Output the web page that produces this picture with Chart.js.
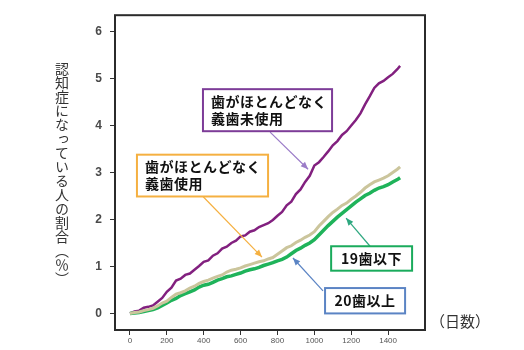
<!DOCTYPE html>
<html>
<head>
<meta charset="utf-8">
<script src="https://cdn.jsdelivr.net/npm/chart.js@4.4.1/dist/chart.umd.min.js"></script>
<style>
  html, body { margin: 0; padding: 0; background: #fff; }
  #wrap { position: relative; width: 524px; height: 350px; }
  #yTitle {
    position: absolute; left: 53px; top: 62px;
    writing-mode: vertical-rl; text-orientation: upright;
    font: 14px "Noto Sans CJK JP", sans-serif; color: #333; line-height: 18px;
  }
  #xTitle {
    position: absolute; left: 430px; top: 310px;
    font: 15px "Noto Sans CJK JP", sans-serif; color: #333;
  }
</style>
</head>
<body>
<div id="wrap">
  <canvas id="chart" width="524" height="350"></canvas>
  <div id="yTitle">認知症になっている人の割合（％）</div>
  <div id="xTitle">（日数）</div>
</div>
<script>
// 経過日数と各グループの割合 (%)
const days = [0, 25, 50, 75, 100, 125, 150, 175, 200, 225, 250, 275, 300, 325, 350, 375, 400, 425, 450, 475,
              500, 525, 550, 575, 600, 625, 650, 675, 700, 725, 750, 775, 800, 825, 850, 875, 900, 925, 950, 975,
              1000, 1025, 1050, 1075, 1100, 1125, 1150, 1175, 1200, 1225, 1250, 1275, 1300, 1325, 1350, 1375,
              1400, 1425, 1450, 1465];
const noTeethNoDenture = [0, 0.04, 0.06, 0.12, 0.14, 0.17, 0.25, 0.33, 0.46, 0.55, 0.70, 0.74, 0.82, 0.85, 0.93, 1.01, 1.10, 1.13, 1.23, 1.28,
              1.38, 1.42, 1.50, 1.55, 1.64, 1.66, 1.74, 1.77, 1.84, 1.88, 1.92, 1.99, 2.08, 2.16, 2.30, 2.38, 2.54, 2.64, 2.80, 2.93,
              3.15, 3.22, 3.33, 3.45, 3.58, 3.67, 3.80, 3.88, 4.00, 4.12, 4.26, 4.45, 4.62, 4.80, 4.90, 4.95,
              5.03, 5.10, 5.20, 5.27];
const noTeethDenture = [0, 0.02, 0.03, 0.06, 0.08, 0.11, 0.16, 0.22, 0.26, 0.34, 0.41, 0.44, 0.48, 0.54, 0.58, 0.64, 0.68, 0.71, 0.75, 0.79,
              0.82, 0.88, 0.92, 0.94, 0.97, 1.01, 1.04, 1.07, 1.10, 1.12, 1.16, 1.19, 1.26, 1.33, 1.40, 1.44, 1.51, 1.56, 1.62, 1.67,
              1.74, 1.86, 1.96, 2.06, 2.15, 2.22, 2.30, 2.35, 2.43, 2.50, 2.58, 2.67, 2.74, 2.80, 2.84, 2.88,
              2.93, 3.00, 3.07, 3.12];
const teeth20plus = [0, 0.01, 0.02, 0.04, 0.06, 0.08, 0.12, 0.17, 0.22, 0.28, 0.32, 0.38, 0.42, 0.46, 0.50, 0.56, 0.60, 0.62, 0.66, 0.71,
              0.74, 0.78, 0.80, 0.83, 0.86, 0.90, 0.93, 0.95, 0.98, 1.02, 1.05, 1.08, 1.12, 1.15, 1.20, 1.27, 1.34, 1.39, 1.45, 1.50,
              1.57, 1.67, 1.77, 1.87, 1.96, 2.05, 2.13, 2.21, 2.29, 2.37, 2.44, 2.51, 2.56, 2.62, 2.67, 2.70,
              2.74, 2.80, 2.85, 2.89];
const xTicks = [0, 200, 400, 600, 800, 1000, 1200, 1400];
const yTicks = [0, 1, 2, 3, 4, 5, 6];

const pts = vals => days.map((d, i) => ({ x: d, y: vals[i] }));

// 吹き出し (データ座標で指定)
const notes = [
  { lines: ['歯がほとんどなく', '義歯未使用'], box: [396, 1096, 4.775, 3.88], color: '#7d3c98',
    arrow: '#9b7cc8', from: [760, 3.86], to: [966, 3.07], center: false },
  { lines: ['歯がほとんどなく', '義歯使用'], box: [38, 749, 3.38, 2.49], color: '#f5b041',
    arrow: '#f5b041', from: [396, 2.49], to: [716, 1.20], center: false },
  { lines: ['19歯以下'], box: [1091, 1530, 1.43, 0.91], color: '#1aab5c',
    arrow: '#2fa880', from: [1302, 1.43], to: [1172, 2.03], center: true },
  { lines: ['20歯以上'], box: [1058, 1492, 0.54, 0.0], color: '#5b84c4',
    arrow: '#5b84c4', from: [1047, 0.48], to: [884, 1.18], center: true }
];

function drawArrow(ctx, x0, y0, x1, y1, color) {
  const ang = Math.atan2(y1 - y0, x1 - x0);
  ctx.strokeStyle = color;
  ctx.fillStyle = color;
  ctx.lineWidth = 1.2;
  ctx.beginPath();
  ctx.moveTo(x0, y0);
  ctx.lineTo(x1, y1);
  ctx.stroke();
  ctx.beginPath();
  ctx.moveTo(x1, y1);
  ctx.lineTo(x1 - 8 * Math.cos(ang - 0.4), y1 - 8 * Math.sin(ang - 0.4));
  ctx.lineTo(x1 - 8 * Math.cos(ang + 0.4), y1 - 8 * Math.sin(ang + 0.4));
  ctx.closePath();
  ctx.fill();
}

const frameAndNotes = {
  id: 'frameAndNotes',
  afterDatasetsDraw(chart) {
    const { ctx, chartArea: a, scales: { x, y } } = chart;
    ctx.save();
    notes.forEach(n => {
      drawArrow(ctx, x.getPixelForValue(n.from[0]), y.getPixelForValue(n.from[1]),
                x.getPixelForValue(n.to[0]), y.getPixelForValue(n.to[1]), n.arrow);
    });
    notes.forEach(n => {
      const bx0 = x.getPixelForValue(n.box[0]), bx1 = x.getPixelForValue(n.box[1]);
      const by0 = y.getPixelForValue(n.box[2]), by1 = y.getPixelForValue(n.box[3]);
      ctx.fillStyle = '#fff';
      ctx.fillRect(bx0, by0, bx1 - bx0, by1 - by0);
      ctx.strokeStyle = n.color;
      ctx.lineWidth = 2;
      ctx.strokeRect(bx0, by0, bx1 - bx0, by1 - by0);
      ctx.fillStyle = '#111';
      ctx.font = 'bold 14px "Noto Sans CJK JP", sans-serif';
      ctx.letterSpacing = '0.5px';
      ctx.textBaseline = 'middle';
      ctx.textAlign = n.center ? 'center' : 'left';
      const lh = 17;
      const midY = (by0 + by1) / 2;
      n.lines.forEach((t, i) => {
        const ty = midY + (i - (n.lines.length - 1) / 2) * lh;
        ctx.fillText(t, n.center ? (bx0 + bx1) / 2 : bx0 + 8, ty);
      });
    });
    ctx.strokeStyle = '#2b2b2b';
    ctx.lineWidth = 2;
    ctx.strokeRect(a.left, a.top, a.right - a.left, a.bottom - a.top);
    ctx.restore();
  }
};

new Chart(document.getElementById('chart'), {
  type: 'line',
  data: {
    datasets: [
      { label: '歯がほとんどなく義歯使用', data: pts(noTeethDenture), borderColor: '#cbc59c', borderWidth: 3 },
      { label: '20歯以上', data: pts(teeth20plus), borderColor: '#1fb35a', borderWidth: 3.5 },
      { label: '歯がほとんどなく義歯未使用', data: pts(noTeethNoDenture), borderColor: '#82207f', borderWidth: 2.5 }
    ]
  },
  options: {
    responsive: false,
    animation: false,
    devicePixelRatio: 1,
    layout: { padding: { top: 7, right: 99, left: 0, bottom: 0 } },
    elements: { point: { radius: 0 }, line: { tension: 0 } },
    plugins: { legend: { display: false }, tooltip: { enabled: false } },
    scales: {
      x: {
        type: 'linear', min: -81, max: 1600,
        afterBuildTicks: s => { s.ticks = xTicks.map(v => ({ value: v })); },
        afterFit: s => { s.height = 20; },
        ticks: { color: '#555', font: { size: 8, family: 'Liberation Sans' }, padding: 1, maxRotation: 0,
                 callback: v => String(v) },
        grid: { drawOnChartArea: false, tickLength: 5, color: '#333' },
        border: { display: false }
      },
      y: {
        min: -0.353, max: 6.35,
        afterBuildTicks: s => { s.ticks = yTicks.map(v => ({ value: v })); },
        afterFit: s => { s.width = 115; },
        ticks: { color: '#4a4a4a', font: { size: 12, weight: 'bold', family: 'Liberation Sans' }, padding: 8 },
        grid: { drawOnChartArea: false, tickLength: 5, color: '#333' },
        border: { display: false }
      }
    }
  },
  plugins: [frameAndNotes]
});
</script>
</body>
</html>
